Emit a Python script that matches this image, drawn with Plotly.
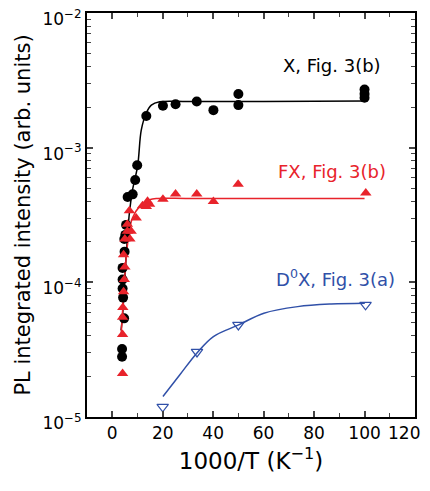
import plotly.graph_objects as go

# Black: X, Fig. 3(b)
x_X = [3.9, 3.9, 4.7, 4.3, 4.1, 4.1, 4.1, 4.9, 5.2, 5.5, 4.8, 6.1, 8.1, 9.1, 9.9,
       13.5, 20.1, 25.1, 33.5, 40.1, 50.0, 50.0, 100.0, 100.0, 100.0]
y_X = [2.8e-5, 3.2e-5, 5.4e-5, 7.7e-5, 9.0e-5, 1.05e-4, 1.28e-4, 1.69e-4, 2.25e-4, 2.67e-4, 2.1e-4,
       4.3e-4, 4.5e-4, 5.75e-4, 7.4e-4,
       1.72e-3, 2.05e-3, 2.1e-3, 2.2e-3, 1.9e-3, 2.5e-3, 2.07e-3, 2.35e-3, 2.5e-3, 2.7e-3]

# Red: FX, Fig. 3(b)
x_FX = [4.1, 4.1, 4.1, 4.2, 4.5, 4.8, 5.0, 4.5, 5.0, 6.0, 7.0, 7.5, 6.0, 6.8, 9.5, 12.0, 14.0,
        13.5, 14.8, 20.1, 25.1, 33.5, 40.1, 49.9, 100.5]
y_FX = [2.1e-5, 4.1e-5, 5.5e-5, 6.5e-5, 8.5e-5, 1.05e-4, 1.3e-4, 1.6e-4, 2.1e-4, 2.4e-4, 2.1e-4,
        2.4e-4, 2.7e-4, 3.4e-4, 3.0e-4, 3.7e-4, 4.0e-4,
        3.65e-4, 3.8e-4, 4.14e-4, 4.53e-4, 4.53e-4, 3.98e-4, 5.35e-4, 4.6e-4]

# Blue: D0X, Fig. 3(a)
x_D0X = [20.0, 33.6, 50.0, 100.4]
y_D0X = [1.19e-5, 3.04e-5, 4.83e-5, 6.8e-5]

# Fitted curves
fit_x_X = [3.5, 4.1, 5.0, 6.1, 6.8, 8.0, 10.1, 11.5, 13.5, 15.5, 18.8, 30, 60, 100]
fit_y_X = [4.4e-5, 5.7e-5, 1.1e-4, 2.25e-4, 3.27e-4, 4.8e-4, 7.4e-4, 1.35e-3, 1.81e-3, 2.07e-3, 2.19e-3, 2.2e-3, 2.2e-3, 2.22e-3]

fit_x_FX = [3.5, 4.5, 5.5, 6.5, 8.0, 10.8, 14.8, 18, 30, 60, 100]
fit_y_FX = [4.0e-5, 8.0e-5, 1.5e-4, 2.2e-4, 3.0e-4, 3.65e-4, 4.1e-4, 4.2e-4, 4.2e-4, 4.2e-4, 4.2e-4]

fit_x_D0X = [20.1, 26.8, 33.5, 40.1, 50.1, 60.1, 73.5, 86.8, 100.1]
fit_y_D0X = [1.42e-5, 2.06e-5, 2.98e-5, 3.96e-5, 4.83e-5, 5.9e-5, 6.6e-5, 6.9e-5, 7.0e-5]

x_ticks = [0, 20, 40, 60, 80, 100, 120]
x_ticktext = ["0", "20", "40", "60", "80", "100", ""]   # "120" drawn as an annotation so it stays inside the page
y_ticks = [1e-5, 1e-4, 1e-3, 1e-2]
y_ticktext = ["10<sup>−5</sup>", "10<sup>−4</sup>", "10<sup>−3</sup>", "10<sup>−2</sup>"]

BLACK = "#000000"
RED = "#E8232B"
BLUE = "#3050A8"
FONT = "DejaVu Sans"

fig = go.Figure()
fig.add_trace(go.Scatter(x=fit_x_X, y=fit_y_X, mode="lines", line=dict(color=BLACK, width=1.5, shape="spline")))
fig.add_trace(go.Scatter(x=fit_x_FX, y=fit_y_FX, mode="lines", line=dict(color=RED, width=1.5, shape="spline")))
fig.add_trace(go.Scatter(x=fit_x_D0X, y=fit_y_D0X, mode="lines", line=dict(color=BLUE, width=1.5, shape="spline")))
fig.add_trace(go.Scatter(x=x_X, y=y_X, mode="markers", marker=dict(symbol="circle", size=10, color=BLACK)))
fig.add_trace(go.Scatter(x=x_FX, y=y_FX, mode="markers", marker=dict(symbol="triangle-up", size=10, color=RED)))
fig.add_trace(go.Scatter(x=x_D0X, y=y_D0X, mode="markers",
                         marker=dict(symbol="triangle-down-open", size=10, color=BLUE, line=dict(width=1.2))))

fig.add_annotation(x=(331 - 113) / 2.5, y=-2.39, text="X, Fig. 3(b)", showarrow=False, xref="x", yref="y",
                   font=dict(color=BLACK, size=18, family=FONT))
fig.add_annotation(x=(331 - 113) / 2.5, y=-3.175, text="FX, Fig. 3(b)", showarrow=False, xref="x", yref="y",
                   font=dict(color=RED, size=18, family=FONT))
fig.add_annotation(x=(334 - 113) / 2.5, y=-3.97, text="D<sup>0</sup>X, Fig. 3(a)", showarrow=False, xref="x", yref="y",
                   font=dict(color=BLUE, size=18, family=FONT))
fig.add_annotation(x=x_ticks[-1], y=-5, text="120", showarrow=False, xref="x", yref="y",
                   xanchor="right", yanchor="top", xshift=7, yshift=-4,
                   font=dict(color=BLACK, size=17, family=FONT))

# page body adds an 8px margin on every side; size and margins compensate so nothing overflows
fig.update_layout(
    width=414, height=475,
    margin=dict(l=79, r=7, t=5, b=66),
    plot_bgcolor="white", paper_bgcolor="white",
    showlegend=False,
    font=dict(family=FONT, size=17, color="black"),
)
fig.update_xaxes(
    range=[-10, 120], tickvals=x_ticks, ticktext=x_ticktext, ticks="inside", ticklen=6, tickwidth=1.5,
    showline=True, linecolor="black", linewidth=2, mirror="allticks", showgrid=False, zeroline=False,
    minor=dict(ticks="inside", ticklen=4, tickwidth=1.2, dtick=10, tick0=0, showgrid=False),
    tickfont=dict(size=17), automargin=False, ticklabeloverflow="allow",
    title=dict(text="1000/T (K<sup>−1</sup>)", font=dict(size=23), standoff=10),
)
minor_y = [m * 10 ** e for e in (-5, -4, -3) for m in range(2, 10)]
fig.update_yaxes(
    type="log", range=[-5, -2], tickvals=y_ticks, ticktext=y_ticktext, ticks="inside", ticklen=6, tickwidth=1.5,
    showline=True, linecolor="black", linewidth=2, mirror="allticks", showgrid=False, zeroline=False,
    minor=dict(ticks="inside", ticklen=4, tickwidth=1.2, tickvals=minor_y, showgrid=False),
    tickfont=dict(size=17), automargin=False, ticklabeloverflow="allow", ticklabelshift=6,
    title=dict(text="PL integrated intensity (arb. units)", font=dict(size=21), standoff=6),
)

fig.write_html("out.html")
